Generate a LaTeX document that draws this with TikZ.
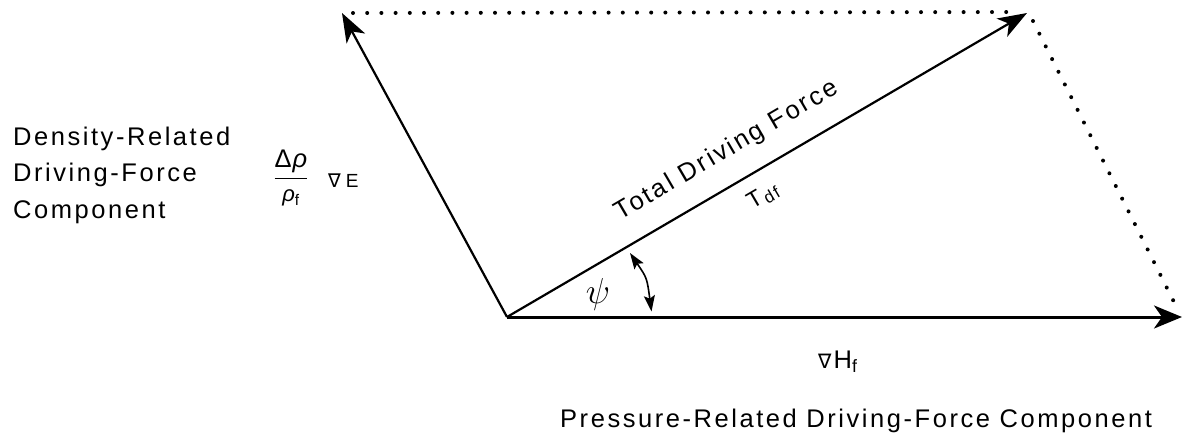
\documentclass[tikz,border=0pt]{standalone}
\usepackage{fontspec}
\setmainfont[LetterSpace=10]{Liberation Sans}
\newfontfamily\dv{DejaVu Sans}
\usetikzlibrary{arrows.meta}
\begin{document}
\begin{tikzpicture}[x=1pt,y=-1pt,
  vecbig/.style={line width=2.2pt,-{Stealth[length=29pt,width=21pt,inset=8pt]}},
  vecthick/.style={line width=3pt,-{Stealth[length=28pt,width=23pt,inset=8pt]}},
  dbl/.style={line width=1.6pt,{Stealth[length=16pt,width=11pt,inset=3pt]}-{Stealth[length=16pt,width=11pt,inset=3pt]}},
  dotline/.style={line width=4pt,line cap=round,dash pattern=on 0pt off 14.2pt},
  lbl/.style={inner sep=0pt,font=\fontsize{25.5}{36.5}\selectfont},
]
\useasboundingbox (0,0) rectangle (1183,440);
% key points
\coordinate (O) at (507,317);
\coordinate (A) at (342,13);
\coordinate (B) at (1027,13);
\coordinate (C) at (1182,317);
\coordinate (d1) at (353,13);
\coordinate (d2) at (1016,12);
\coordinate (d3) at (1033,21);
\coordinate (d4) at (1178,310);
\coordinate (p1) at (630,253);
\coordinate (p2) at (651.5,311.5);
% dotted parallelogram sides
\draw[dotline] (d1) -- (d2);
\draw[dotline] (d3) -- (d4);
% vectors
\draw[vecbig] (O) -- (A);
\draw[vecbig] (O) -- (B);
\draw[vecthick] (O) -- (C);
% angle arrow
\draw[dbl] (p1) .. controls (647,278) .. (p2);
% labels
\node[lbl,anchor=north west,align=left] (dens) at (13,126.5) {Density-Related\\Driving-Force\\Component};
\node[lbl,anchor=base] (frac) at (291,184.5) {$\displaystyle\frac{\hbox{Δ\kern1pt\itshape ρ}}{\hbox{\fontsize{22}{22}\selectfont\itshape ρ\upshape\textsubscript{f}}}$};
\node[inner sep=0pt,anchor=base west,font=\fontsize{19}{19}\selectfont] (gradE) at (328,187) {{\dv ∇}\kern5pt E};
\node[lbl,anchor=south,rotate=30.3] (tdf) at (733,161) {Total Driving Force};
\node[lbl,anchor=center,rotate=30.3] (tdfsym) at (763,196) {\fontsize{23}{23}\selectfont T\kern2pt\raisebox{-3pt}{\fontsize{17}{17}\selectfont df}};
\node[inner sep=0pt,scale=1.45] (psi) at (598,294) {\fontsize{24}{24}\selectfont$\psi$};
\node[lbl,anchor=base west] (gradH) at (818,368) {{\dv\fontsize{20}{20}\selectfont ∇}\kern2pt H\textsubscript{f}};
\node[lbl,anchor=base west] (press) at (560,427) {Pressure-Related Driving-Force Component};
\end{tikzpicture}
\end{document}
